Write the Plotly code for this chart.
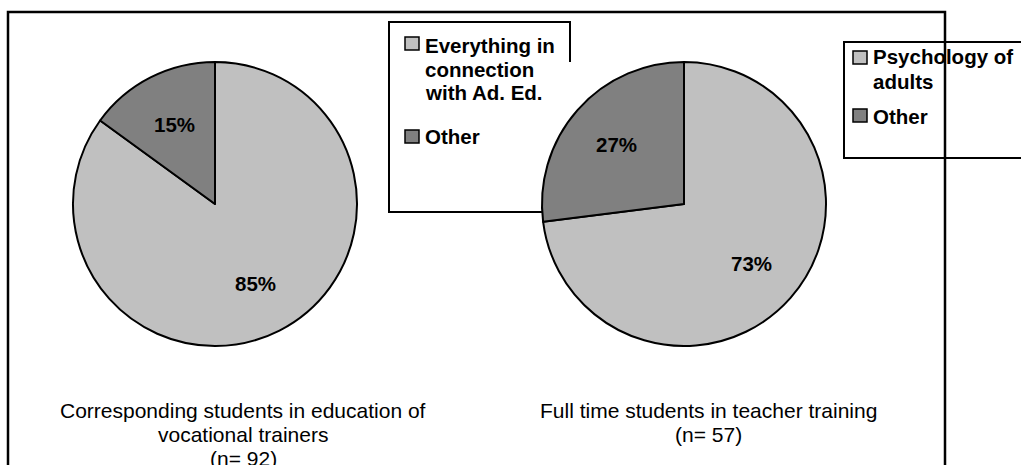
import math
import plotly.graph_objects as go

W, H = 1021, 465

# ---- data ----
left_categories = ["Everything in connection with Ad. Ed.", "Other"]
left_values = [85, 15]
right_categories = ["Psychology of adults", "Other"]
right_values = [73, 27]
slice_colors = ["#C0C0C0", "#808080"]

left_legend_lines = [["Everything in", "connection", "with Ad. Ed."], ["Other"]]
right_legend_lines = [["Psychology of", "adults"], ["Other"]]
left_caption = ["Corresponding students in education of", "vocational trainers", "(n= 92)"]
right_caption = ["Full time students in teacher training", "(n= 57)"]

FONT = "Liberation Sans, Arial, sans-serif"


def px(x):
    return x / W


def py(y):
    return 1 - y / H


fig = go.Figure()

pie_common = dict(
    sort=False,
    direction="clockwise",
    rotation=0,
    textinfo="none",
    marker=dict(colors=slice_colors, line=dict(color="black", width=2)),
    hoverinfo="none",
    showlegend=False,
)

# pie boxes (pixel bounding squares of the two pies)
pie_boxes = [(73, 62, 357, 346), (542, 62, 826, 346)]

for (labels, values), (x0, y0, x1, y1) in zip(
        [(left_categories, left_values), (right_categories, right_values)], pie_boxes):
    fig.add_trace(go.Pie(labels=labels, values=values,
                         domain=dict(x=[px(x0), px(x1)], y=[py(y1), py(y0)]), **pie_common))

shapes = []
annotations = []

# percentage labels placed along each slice's mid angle
for values, (x0, y0, x1, y1) in zip([left_values, right_values], pie_boxes):
    cx, cy, r = (x0 + x1) / 2, (y0 + y1) / 2, (x1 - x0) / 2
    total = sum(values)
    cum = 0
    for v in values:
        mid = math.radians(90 - 360 * (cum + v / 2) / total)
        cum += v
        lx = cx + 0.63 * r * math.cos(mid)
        ly = cy - 0.63 * r * math.sin(mid)
        annotations.append(dict(xref="paper", yref="paper", x=px(lx), y=py(ly),
                                xanchor="center", yanchor="middle", showarrow=False,
                                text=f"{round(100 * v / total)}%",
                                font=dict(family=FONT, size=20.5, color="black", weight="bold")))

# outer chart frame (bottom edge beyond the visible window)
shapes.append(dict(type="rect", xref="paper", yref="paper", layer="below",
                   x0=px(8), x1=px(945), y0=py(490), y1=py(12),
                   line=dict(color="black", width=2.5), fillcolor="rgba(0,0,0,0)"))
# legend box 1
shapes.append(dict(type="rect", xref="paper", yref="paper", layer="below",
                   x0=px(389), x1=px(570), y0=py(212), y1=py(22),
                   line=dict(color="black", width=2), fillcolor="white"))
# white plot area of right pie, covering part of legend box 1
shapes.append(dict(type="rect", xref="paper", yref="paper", layer="below",
                   x0=px(542), x1=px(826), y0=py(346), y1=py(62),
                   line=dict(width=0), fillcolor="white"))
# legend box 2
shapes.append(dict(type="rect", xref="paper", yref="paper", layer="below",
                   x0=px(844), x1=px(1040), y0=py(158), y1=py(42),
                   line=dict(color="black", width=2), fillcolor="rgba(0,0,0,0)"))


def legend(x_sq, x_txt, sq_tops, line_centers, lines_per_item):
    for i, (top, lines) in enumerate(zip(sq_tops, lines_per_item)):
        shapes.append(dict(type="rect", xref="paper", yref="paper", layer="above",
                           x0=px(x_sq), x1=px(x_sq + 14), y0=py(top + 13), y1=py(top),
                           line=dict(color="black", width=1.5), fillcolor=slice_colors[i]))
        for j, t in enumerate(lines):
            annotations.append(dict(xref="paper", yref="paper", x=px(x_txt), y=py(line_centers[i] + 24 * j),
                                    xanchor="left", yanchor="middle", showarrow=False, text=t,
                                    font=dict(family=FONT, size=20.5, color="black", weight="bold")))


legend(405, 423, [37, 130], [45, 136], left_legend_lines)
legend(853, 871, [51, 109], [57, 116], right_legend_lines)

for j, t in enumerate(left_caption):
    annotations.append(dict(xref="paper", yref="paper", x=px(243), y=py(410 + 24 * j),
                            xanchor="center", yanchor="middle", showarrow=False, text=t,
                            font=dict(family=FONT, size=21, color="black")))
for j, t in enumerate(right_caption):
    annotations.append(dict(xref="paper", yref="paper", x=px(708), y=py(410 + 24 * j),
                            xanchor="center", yanchor="middle", showarrow=False, text=t,
                            font=dict(family=FONT, size=21, color="black")))

fig.update_layout(width=W, height=H, margin=dict(l=0, r=0, t=0, b=0),
                  paper_bgcolor="white", plot_bgcolor="white",
                  shapes=shapes, annotations=annotations, showlegend=False)

fig.write_html("out.html", config={"displayModeBar": False})
